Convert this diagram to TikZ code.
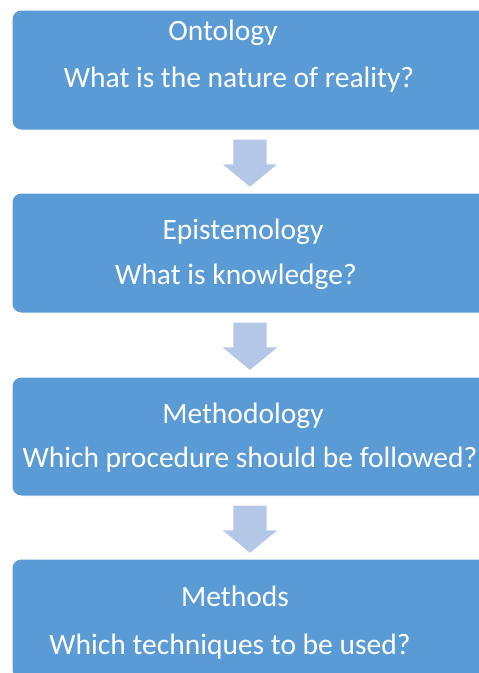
\documentclass[tikz,border=0pt]{standalone}
\usepackage{fontspec}
\setmainfont{Carlito}
\usetikzlibrary{shapes.arrows}

\definecolor{boxblue}{HTML}{5B9BD5}
\definecolor{arrowblue}{HTML}{B4C7E7}

\tikzset{
  stagebox/.style={draw=white, line width=1pt, fill=boxblue, rounded corners=9pt,
    minimum width=476pt, minimum height=120pt, inner sep=0pt},
  downarrow/.style={single arrow, fill=arrowblue, draw=none, rotate=-90, anchor=tail,
    minimum height=45pt, minimum width=54pt, inner sep=16.5pt,
    single arrow head extend=10.5pt, single arrow tip angle=101},
  boxtext/.style={anchor=base, inner sep=0pt, text=white,
    font=\fontsize{29.5}{35}\selectfont}
}

\begin{document}
\begin{tikzpicture}[x=1pt,y=1pt,yscale=-1,xscale=1]
\useasboundingbox (0,0) rectangle (479,673);

%Boxes
\node [stagebox] (onto) at (250,70) {};
\node [stagebox] (epis) at (250,253) {};
\node [stagebox, minimum height=119pt] (meth) at (250,436.5) {};
\node [stagebox] (mtds) at (250,619) {};

%Block arrows between the boxes
\path (onto.south) -- (epis.north) node [pos=0.143, downarrow] (a1) {};
\path (epis.south) -- (meth.north) node [pos=0.143, downarrow] (a2) {};
\path (meth.south) -- (mtds.north) node [pos=0.143, downarrow] (a3) {};

% Text Node
\node [boxtext] (t1) at (223,40.7) {Ontology};
% Text Node
\node [boxtext] (q1) at (239,87.3) {What is the nature of reality?};
% Text Node
\node [boxtext] (t2) at (243,239.3) {Epistemology};
% Text Node
\node [boxtext] (q2) at (236,284) {What is knowledge?};
% Text Node
\node [boxtext] (t3) at (243,423.3) {Methodology};
% Text Node
\node [boxtext] (q3) at (250,467.3) {Which procedure should be followed?};
% Text Node
\node [boxtext] (t4) at (235,606) {Methods};
% Text Node
\node [boxtext] (q4) at (230,654) {Which techniques to be used?};

\end{tikzpicture}
\end{document}
